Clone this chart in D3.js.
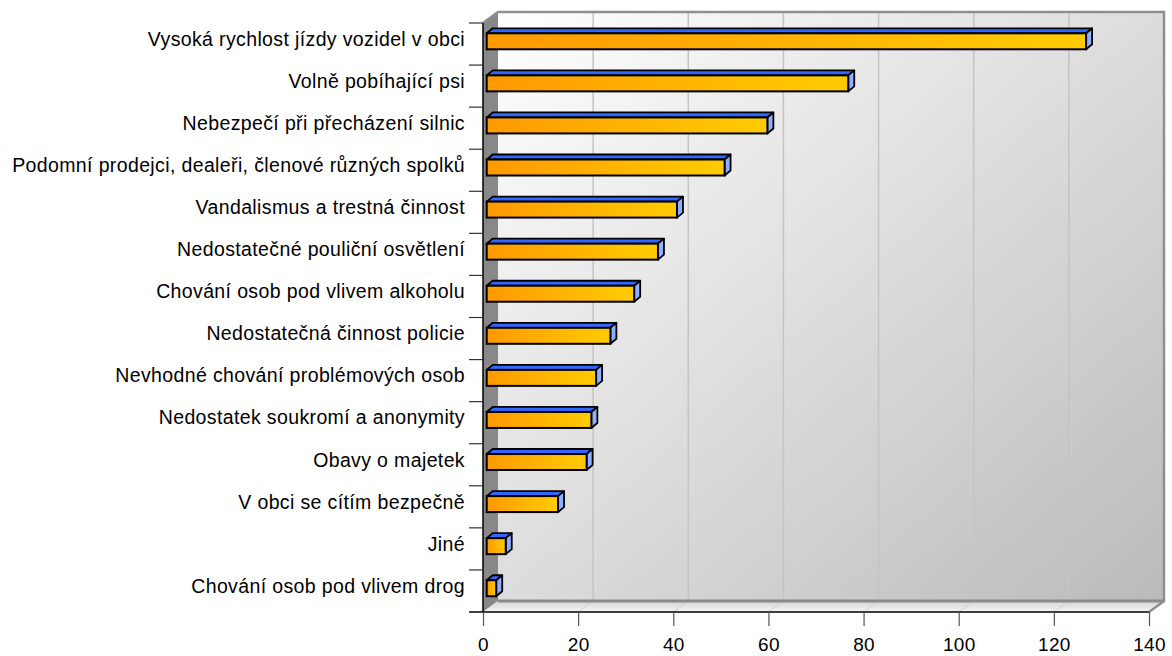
<!DOCTYPE html>
<html><head><meta charset="utf-8">
<script src="https://cdn.jsdelivr.net/npm/d3@7"></script>
<style>
html,body{margin:0;padding:0;background:#fff;}
svg{display:block;font-family:"Liberation Sans",Arial,sans-serif;}
</style></head>
<body>
<svg id="c" width="1172" height="656"></svg>
<script>
const categories = [
  "Vysoká rychlost jízdy vozidel v obci",
  "Volně pobíhající psi",
  "Nebezpečí při přecházení silnic",
  "Podomní prodejci, dealeři, členové různých spolků",
  "Vandalismus a trestná činnost",
  "Nedostatečné pouliční osvětlení",
  "Chování osob pod vlivem alkoholu",
  "Nedostatečná činnost policie",
  "Nevhodné chování problémových osob",
  "Nedostatek soukromí a anonymity",
  "Obavy o majetek",
  "V obci se cítím bezpečně",
  "Jiné",
  "Chování osob pod vlivem drog"
];
const values = [126, 76, 59, 50, 40, 36, 31, 26, 23, 22, 21, 15, 4, 2];
const xTicks = [0, 20, 40, 60, 80, 100, 120, 140];

const svg = d3.select("#c");
const x = d3.scaleLinear().domain([0, 140]).range([483, 1149]);
const y = d3.scaleBand().domain(categories).range([23, 612]);
const DX = 15, DY = -11;           // wall depth
const BX = 6, BY = -5;             // bar depth
const BOFF = 3.7;                  // bar placement inside depth

const defs = svg.append("defs");
const gWall = defs.append("linearGradient").attr("id","wall").attr("x1",0).attr("y1",0).attr("x2",1).attr("y2",1);
gWall.append("stop").attr("offset",0).attr("stop-color","#ffffff");
gWall.append("stop").attr("offset",1).attr("stop-color","#bababa");
const gFloor = defs.append("linearGradient").attr("id","floor").attr("x1",0).attr("y1",0).attr("x2",0).attr("y2",1);
gFloor.append("stop").attr("offset",0).attr("stop-color","#d4d4d4");
gFloor.append("stop").attr("offset",1).attr("stop-color","#f6f6f6");
const gBar = defs.append("linearGradient").attr("id","bar").attr("x1",0).attr("y1",0).attr("x2",1).attr("y2",0);
gBar.append("stop").attr("offset",0).attr("stop-color","#ff9900");
gBar.append("stop").attr("offset",1).attr("stop-color","#ffcc00");

const x0 = x(0), x1 = x(140), yTop = y.range()[0], yBot = y.range()[1];

// back wall
svg.append("rect").attr("x", x0+DX).attr("y", yTop+DY).attr("width", x1-x0).attr("height", yBot-yTop)
  .attr("fill","url(#wall)");
svg.selectAll(".grid").data(xTicks.filter(d=>d>0 && d<140)).enter().append("line")
  .attr("x1", d=>x(d)+DX).attr("x2", d=>x(d)+DX).attr("y1", yTop+DY).attr("y2", yBot+DY)
  .attr("stroke","#c4c4c4").attr("stroke-width",1.5);
// left wall
svg.append("path").attr("d", `M${x0},${yTop}L${x0+DX},${yTop+DY}L${x0+DX},${yBot+DY}L${x0},${yBot}Z`)
  .attr("fill","#888888");
// floor
svg.append("path").attr("d", `M${x0},${yBot}L${x0+DX},${yBot+DY}L${x1+DX},${yBot+DY}L${x1},${yBot}Z`)
  .attr("fill","url(#floor)");
svg.selectAll(".fgrid").data(xTicks.filter(d=>d>0 && d<140)).enter().append("line")
  .attr("x1", d=>x(d)).attr("x2", d=>x(d)+DX).attr("y1", yBot).attr("y2", yBot+DY)
  .attr("stroke","#d0d0d0").attr("stroke-width",1);
// wall borders
svg.append("path").attr("d", `M${x0},${yTop}L${x0+DX},${yTop+DY}L${x1+DX},${yTop+DY}L${x1+DX},${yBot+DY}L${x1},${yBot}`)
  .attr("fill","none").attr("stroke","#8f8f8f").attr("stroke-width",2.5);
svg.append("line").attr("x1", x0+DX).attr("x2", x1+DX).attr("y1", yBot+DY).attr("y2", yBot+DY)
  .attr("stroke","#8a8a8a").attr("stroke-width",3);

// bars
const bars = svg.selectAll(".bar").data(categories.map((c,i)=>({c, v: values[i]}))).enter().append("g");
const bh = y.bandwidth()*0.38, by = y.bandwidth()*0.245;
bars.each(function(d){
  const g = d3.select(this);
  const xl = x(0)+BOFF, xr = x(d.v)+BOFF, yt = y(d.c)+by, yb = yt+bh;
  g.append("path").attr("d", `M${xl},${yt}L${xl+BX},${yt+BY}L${xr+BX},${yt+BY}L${xr},${yt}Z`)
    .attr("fill","#3366ff").attr("stroke","#000").attr("stroke-width",1.8).attr("stroke-linejoin","round");
  g.append("path").attr("d", `M${xr},${yt}L${xr+BX},${yt+BY}L${xr+BX},${yb+BY}L${xr},${yb}Z`)
    .attr("fill","#8fb0ff").attr("stroke","#000").attr("stroke-width",1.8).attr("stroke-linejoin","round");
  g.append("rect").attr("x", xl).attr("y", yt).attr("width", xr-xl).attr("height", bh)
    .attr("fill","url(#bar)").attr("stroke","#000").attr("stroke-width",2);
});

// axes
svg.append("line").attr("x1", x0).attr("x2", x0).attr("y1", yTop).attr("y2", yBot).attr("stroke","#000").attr("stroke-width",1.5);
svg.append("line").attr("x1", 469).attr("x2", x1).attr("y1", yBot).attr("y2", yBot).attr("stroke","#000").attr("stroke-width",1.5);
const bounds = categories.map(c=>y(c));
svg.selectAll(".ytick").data(bounds).enter().append("line")
  .attr("x1",469).attr("x2",x0).attr("y1",d=>d).attr("y2",d=>d).attr("stroke","#333").attr("stroke-width",1.2);

const xAxis = svg.append("g").attr("transform",`translate(0,${yBot})`)
  .call(d3.axisBottom(x).tickValues(xTicks).tickSize(14).tickSizeOuter(0).tickPadding(12));
xAxis.select(".domain").remove();
xAxis.selectAll(".tick line").attr("stroke","#555").attr("stroke-width",1.2);
xAxis.selectAll(".tick text").attr("font-size","19px").attr("fill","#000")
  .attr("font-family","'Liberation Sans',Arial,sans-serif").attr("letter-spacing","0.3px");

svg.selectAll(".lab").data(categories).enter().append("text")
  .attr("x", 465).attr("y", d=>y(d)+y.bandwidth()/2+1.8)
  .attr("text-anchor","end").attr("font-size","19.5px").attr("letter-spacing","0.37px")
  .attr("fill","#000").text(d=>d);
</script>
</body></html>
